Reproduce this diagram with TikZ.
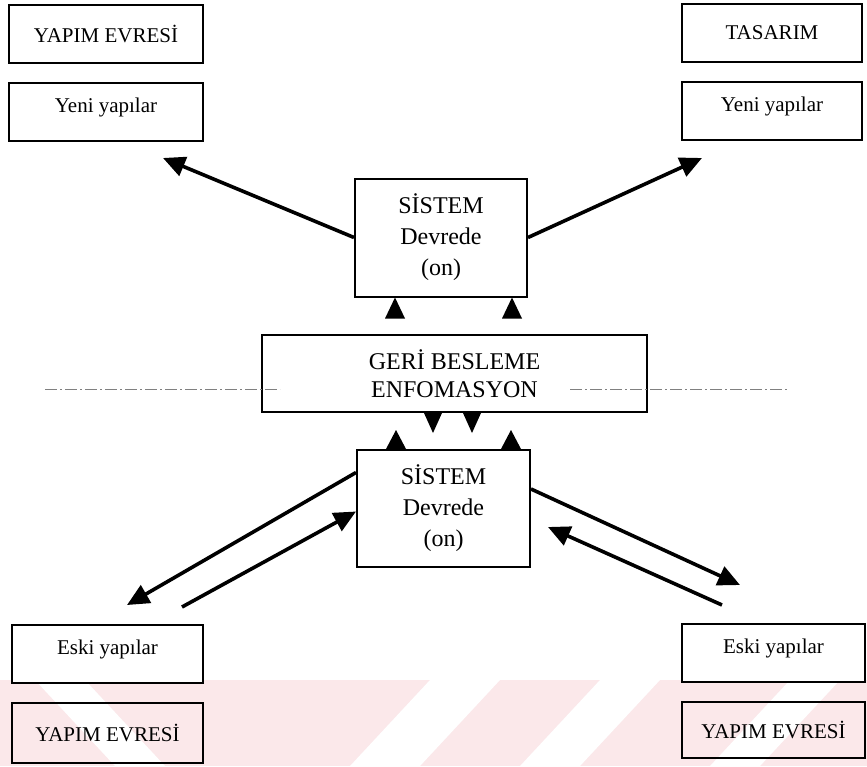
\documentclass[tikz,border=0pt]{standalone}
\usepackage{fontspec}
\setmainfont{Liberation Serif}
\usetikzlibrary{arrows.meta}

\definecolor{markpink}{RGB}{251,232,234}

\begin{document}
\begin{tikzpicture}[x=1pt, y=-1pt,
  box/.style = {draw, line width=2pt, inner sep=0pt, minimum height=58pt, font=\fontsize{21}{24}\selectfont},
  low/.style = {text height=13pt, text depth=13pt},
  sys/.style = {draw, line width=2pt, inner sep=0pt, align=center, minimum width=172pt, minimum height=118pt, font=\fontsize{24}{31}\selectfont},
  feed/.style = {draw, fill=white, line width=2pt, inner sep=0pt, align=center, minimum width=385pt, minimum height=77pt, font=\fontsize{24}{28}\selectfont},
  arr/.style = {line width=3.6pt, -{Triangle[length=22pt,width=20pt]}},
  divider/.style = {gray, line width=0.8pt, dash pattern=on 12pt off 3pt on 2pt off 3pt}]

\useasboundingbox (0,0) rectangle (867,766);

\fill[markpink] (0,680) rectangle (867,766);
\fill[white] (35,680) -- (85,680) -- (165,766) -- (115,766) -- cycle;
\fill[white] (430,680) -- (500,680) -- (420,766) -- (350,766) -- cycle;
\fill[white] (600,680) -- (660,680) -- (580,766) -- (520,766) -- cycle;
\fill[white] (790,680) -- (840,680) -- (760,766) -- (710,766) -- cycle;

\node[box, minimum width=194pt] (yapim1) at (106,33.5) {YAPIM EVRESİ};
\node[box, low, minimum width=194pt] (yeni1) at (106,112) {Yeni yapılar};
\node[box, minimum width=180pt] (tasarim) at (772,33) {TASARIM};
\node[box, low, minimum width=180pt] (yeni2) at (772,111) {Yeni yapılar};
\node[box, low, minimum width=191pt, fill=white] (eski1) at (107.5,654) {Eski yapılar};
\node[box, minimum width=191pt, minimum height=60pt] (yapim2) at (107.5,733) {YAPIM EVRESİ};
\node[box, low, minimum width=183pt, fill=white] (eski2) at (773.5,653) {Eski yapılar};
\node[box, minimum width=183pt, minimum height=56pt] (yapim3) at (773.5,730) {YAPIM EVRESİ};

\node[sys] (sys1) at (441,237.5) {SİSTEM\\Devrede\\(on)};
\node[feed] (geri) at (454.5,373.5) {GERİ BESLEME\\ENFOMASYON};
\node[sys, minimum width=173pt, minimum height=117pt] (sys2) at (443.5,508.5) {SİSTEM\\Devrede\\(on)};

\draw[divider] (45,389) -- (280,389) (570,389) -- (789,389);

\coordinate (yeni1end) at (163,158);
\coordinate (yeni2end) at (702,158);
\coordinate (eski1end) at (127,605);
\coordinate (eski1start) at (182,607);
\coordinate (eski2end) at (740,585);
\coordinate (eski2start) at (722,605);
\coordinate (sys2end) at (548,527);

\draw[arr] (sys1.west) -- (yeni1end);
\draw[arr] (sys1.east) -- (yeni2end);
\draw[arr] ([yshift=36pt]sys2.west) -- (eski1end);
\draw[arr] (eski1start) -- ([yshift=-3pt]sys2.west);
\draw[arr] ([yshift=19.5pt]sys2.east) -- (eski2end);
\draw[arr] (eski2start) -- (sys2end);

\fill ([xshift=-46pt]sys1.south) -- ++(-10,21) -- ++(20,0) -- cycle;
\fill ([xshift=71pt]sys1.south) -- ++(-10,21) -- ++(20,0) -- cycle;
\fill ([xshift=-30.5pt]geri.south) -- ++(18,0) -- ++(-9,20) -- cycle;
\fill ([xshift=8.5pt]geri.south) -- ++(18,0) -- ++(-9,20) -- cycle;
\fill ([xshift=-57.5pt]sys2.north) -- ++(20,0) -- ++(-10,-19) -- cycle;
\fill ([xshift=57.5pt]sys2.north) -- ++(20,0) -- ++(-10,-19) -- cycle;

\end{tikzpicture}
\end{document}
